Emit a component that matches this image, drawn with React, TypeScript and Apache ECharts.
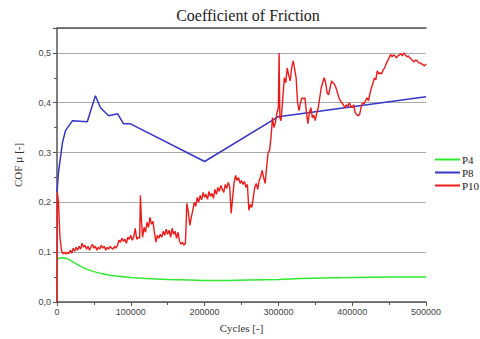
import React, { useEffect, useRef } from "react";
import * as echarts from "echarts";

const title = "Coefficient of Friction";
const xName = "Cycles [-]";
const yName = "COF µ [-]";
const seriesNames = ["P4", "P8", "P10"];
const seriesColors = ["#2fe82f", "#3535c8", "#ee1a1a"];

const p4: [number, number][] = [
  [0, 0.085], [3000, 0.088], [8000, 0.089], [14000, 0.087], [20000, 0.082],
  [30000, 0.073], [40000, 0.066], [50000, 0.061], [60000, 0.057], [70000, 0.054],
  [80000, 0.052], [100000, 0.049], [120000, 0.047], [150000, 0.045], [180000, 0.044],
  [200000, 0.043], [230000, 0.043], [260000, 0.044], [300000, 0.045], [330000, 0.047],
  [360000, 0.048], [400000, 0.049], [450000, 0.05], [500000, 0.05],
];

const p8: [number, number][] = [
  [0, 0.22], [2000, 0.26], [7400, 0.32], [11500, 0.344], [21000, 0.364],
  [41000, 0.362], [52000, 0.414], [59000, 0.39], [70000, 0.374], [82000, 0.378],
  [90000, 0.358], [99000, 0.358], [200000, 0.282], [300000, 0.372], [500000, 0.412],
];

const p10: [number, number][] = [
  [0, 0.0], [500, 0.22], [2000, 0.2], [4000, 0.13], [6000, 0.104], [8000, 0.097],
  [10000, 0.1], [12000, 0.096], [14000, 0.1], [16000, 0.097], [18000, 0.104], [20000, 0.098],
  [22000, 0.108], [24000, 0.102], [26000, 0.11], [28000, 0.104], [30000, 0.112], [32000, 0.106],
  [34000, 0.118], [36000, 0.11], [38000, 0.114], [40000, 0.106], [42000, 0.112], [44000, 0.104],
  [46000, 0.11], [48000, 0.116], [50000, 0.108], [52000, 0.112], [54000, 0.104], [56000, 0.11],
  [58000, 0.106], [60000, 0.114], [62000, 0.108], [64000, 0.112], [66000, 0.104], [68000, 0.11],
  [70000, 0.106], [72000, 0.112], [74000, 0.108], [76000, 0.106], [78000, 0.112], [80000, 0.108],
  [82000, 0.114], [84000, 0.124], [86000, 0.12], [88000, 0.128], [90000, 0.122], [92000, 0.126],
  [94000, 0.118], [96000, 0.13], [98000, 0.126], [100000, 0.134], [102000, 0.124], [104000, 0.13],
  [106000, 0.148], [108000, 0.126], [110000, 0.13], [112000, 0.128], [113000, 0.214], [114500, 0.16],
  [116000, 0.13], [118000, 0.15], [120000, 0.14], [122000, 0.16], [124000, 0.15], [126000, 0.17],
  [128000, 0.156], [130000, 0.162], [132000, 0.14], [134000, 0.12], [136000, 0.134], [138000, 0.128],
  [140000, 0.136], [142000, 0.13], [144000, 0.142], [146000, 0.134], [148000, 0.146], [150000, 0.136],
  [152000, 0.144], [154000, 0.13], [156000, 0.148], [158000, 0.136], [160000, 0.142], [162000, 0.128],
  [164000, 0.14], [166000, 0.122], [168000, 0.116], [170000, 0.12], [172000, 0.114], [174000, 0.118],
  [176000, 0.198], [178000, 0.18], [180000, 0.154], [182000, 0.17], [184000, 0.184], [186000, 0.2],
  [188000, 0.192], [190000, 0.21], [192000, 0.2], [194000, 0.214], [196000, 0.205], [198000, 0.22],
  [200000, 0.21], [202000, 0.216], [204000, 0.206], [206000, 0.222], [208000, 0.212], [210000, 0.218],
  [212000, 0.208], [214000, 0.226], [216000, 0.216], [218000, 0.23], [220000, 0.222], [222000, 0.234],
  [224000, 0.226], [226000, 0.22], [228000, 0.236], [230000, 0.228], [232000, 0.24], [234000, 0.232],
  [236000, 0.178], [238000, 0.21], [240000, 0.24], [242000, 0.254], [244000, 0.244], [246000, 0.25],
  [248000, 0.238], [250000, 0.244], [252000, 0.236], [254000, 0.242], [256000, 0.23], [258000, 0.236],
  [260000, 0.184], [262000, 0.196], [264000, 0.19], [266000, 0.21], [268000, 0.23], [270000, 0.238],
  [272000, 0.226], [274000, 0.244], [276000, 0.252], [278000, 0.264], [280000, 0.25], [282000, 0.238],
  [284000, 0.27], [286000, 0.3], [288000, 0.304], [290000, 0.33], [292000, 0.37], [294000, 0.35],
  [296000, 0.36], [298000, 0.38], [300000, 0.39], [301000, 0.5], [302000, 0.37], [303500, 0.364],
  [305000, 0.39], [308000, 0.45], [310000, 0.44], [312000, 0.47], [314000, 0.455], [316000, 0.444],
  [318000, 0.47], [320000, 0.484], [322000, 0.468], [324000, 0.45], [326000, 0.4], [328000, 0.384],
  [330000, 0.4], [332000, 0.41], [334000, 0.408], [336000, 0.41], [338000, 0.38], [340000, 0.358],
  [342000, 0.38], [344000, 0.39], [346000, 0.37], [348000, 0.375], [350000, 0.364], [352000, 0.38],
  [354000, 0.39], [356000, 0.41], [358000, 0.43], [360000, 0.44], [362000, 0.45], [364000, 0.44],
  [366000, 0.42], [368000, 0.416], [370000, 0.43], [372000, 0.444], [374000, 0.44], [376000, 0.437],
  [378000, 0.43], [380000, 0.42], [382000, 0.41], [384000, 0.404], [386000, 0.4], [388000, 0.396],
  [390000, 0.39], [392000, 0.396], [394000, 0.392], [396000, 0.4], [398000, 0.394], [400000, 0.39],
  [402000, 0.396], [404000, 0.38], [406000, 0.376], [408000, 0.374], [410000, 0.376], [412000, 0.39],
  [414000, 0.4], [416000, 0.398], [418000, 0.404], [420000, 0.41], [422000, 0.404], [424000, 0.418],
  [426000, 0.43], [428000, 0.438], [430000, 0.45], [432000, 0.446], [434000, 0.464], [436000, 0.458],
  [438000, 0.46], [440000, 0.458], [442000, 0.466], [444000, 0.47], [446000, 0.478], [448000, 0.484],
  [450000, 0.49], [452000, 0.497], [454000, 0.492], [456000, 0.496], [458000, 0.494], [460000, 0.49],
  [462000, 0.494], [464000, 0.496], [466000, 0.498], [468000, 0.494], [470000, 0.5], [472000, 0.496],
  [474000, 0.492], [476000, 0.494], [478000, 0.49], [480000, 0.488], [482000, 0.484], [484000, 0.482],
  [486000, 0.486], [488000, 0.484], [490000, 0.48], [492000, 0.48], [494000, 0.478], [496000, 0.476],
  [498000, 0.474], [500000, 0.478],
];

const seriesData = [p4, p8, p10];

export default function App() {
  const ref = useRef<HTMLDivElement>(null);
  useEffect(() => {
    if (!ref.current) return;
    const chart = echarts.init(ref.current, null, { renderer: "svg" });
    const axisColor = "#555";
    const serif = "Liberation Serif, Times New Roman, serif";
    const labelStyle = { color: "#444", fontSize: 9, fontFamily: "Liberation Sans, Arial, sans-serif" };
    chart.setOption({
      animation: false,
      backgroundColor: "#fff",
      title: {
        text: title,
        left: 243,
        textAlign: "center",
        top: 2,
        textStyle: { fontFamily: serif, fontSize: 16, fontWeight: "normal", color: "#222" },
      },
      legend: {
        orient: "vertical",
        left: 430,
        top: 149,
        itemWidth: 25,
        itemHeight: 2,
        itemGap: 2,
        icon: "rect",
        data: seriesNames,
        textStyle: { fontFamily: serif, fontSize: 11, color: "#222", padding: [0, 0, 0, -3] },
      },
      grid: { left: 57, right: 54, top: 28, bottom: 37 },
      xAxis: [
        {
          type: "value",
          min: 0,
          max: 500000,
          interval: 100000,
          name: xName,
          nameLocation: "middle",
          nameGap: 20,
          nameTextStyle: { fontFamily: serif, fontSize: 11, color: "#333" },
          axisLine: { show: true, lineStyle: { color: axisColor, width: 1.5 } },
          axisTick: { show: true, length: 4, lineStyle: { color: axisColor } },
          minorTick: { show: true, splitNumber: 2, length: 3, lineStyle: { color: axisColor } },
          axisLabel: { ...labelStyle, margin: 5, formatter: (v: number) => String(Math.round(v)) },
          splitLine: { show: false },
        },
        {
          type: "value",
          position: "top",
          min: 0,
          max: 500000,
          axisLine: { show: true, lineStyle: { color: axisColor, width: 1.5 } },
          axisTick: { show: false },
          axisLabel: { show: false },
          splitLine: { show: false },
        },
      ],
      yAxis: {
        type: "value",
        min: 0,
        max: 0.55,
        interval: 0.1,
        name: yName,
        nameLocation: "middle",
        nameGap: 34,
        nameRotate: 90,
        nameTextStyle: { fontFamily: serif, fontSize: 11, color: "#333" },
        axisLine: { show: true, lineStyle: { color: axisColor, width: 1.5 } },
        axisTick: { show: true, length: 4, lineStyle: { color: axisColor } },
        minorTick: { show: true, splitNumber: 2, length: 3, lineStyle: { color: axisColor } },
        axisLabel: {
          ...labelStyle,
          margin: 6,
          formatter: (v: number) => {
            const r = Math.round(v * 10);
            if (Math.abs(v * 10 - r) > 1e-6) return "";
            return (r / 10).toFixed(1).replace(".", ",");
          },
        },
        splitLine: { show: true, lineStyle: { color: "#aaa", width: 1.2 } },
        minorSplitLine: { show: false },
      },
      series: seriesNames.map((n, i) => ({
        name: n,
        type: "line",
        data: seriesData[i],
        showSymbol: false,
        symbol: "none",
        color: seriesColors[i],
        lineStyle: { width: i === 2 ? 1.4 : 1.5, color: seriesColors[i] },
        z: i === 2 ? 3 : 2,
      })),
    });
    return () => chart.dispose();
  }, []);
  return <div ref={ref} style={{ position: "fixed", left: 0, top: 0, width: 480, height: 339 }} />;
}
